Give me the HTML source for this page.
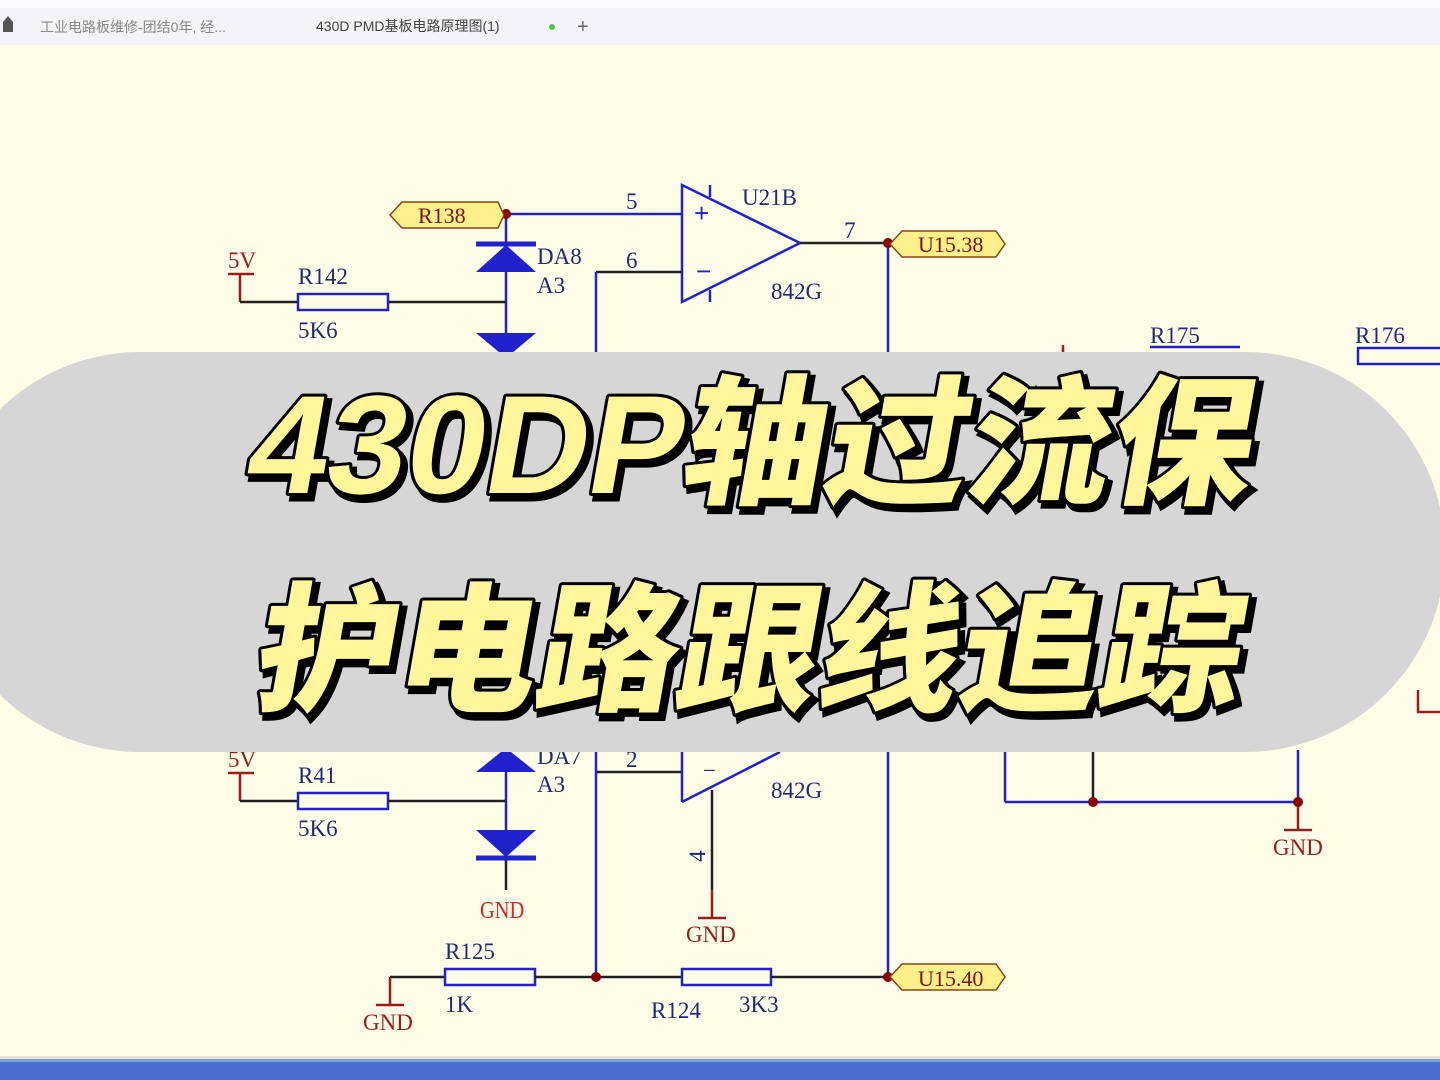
<!DOCTYPE html>
<html><head><meta charset="utf-8">
<style>
html,body{margin:0;padding:0;width:1440px;height:1080px;overflow:hidden;background:#fdfde8;}
svg{display:block}
</style></head>
<body>
<svg width="1440" height="1080" viewBox="0 0 1440 1080" xmlns="http://www.w3.org/2000/svg" font-family="'Liberation Serif', serif">
<rect x="0" y="0" width="1440" height="1080" fill="#fdfde8"/>
<rect x="0" y="0" width="1440" height="45" fill="#f4f3f7"/>
<rect x="0" y="0" width="1440" height="8" fill="#fbfbfd"/>
<path d="M3 32 L3 22 L8 16 L13 22 L13 32 Z" fill="#555"/>
<text x="40" y="32" font-family="'Liberation Sans','Noto Sans CJK SC',sans-serif" font-size="14" fill="#888">工业电路板维修-团结0年, 经...</text>
<text x="316" y="31" font-family="'Liberation Sans','Noto Sans CJK SC',sans-serif" font-size="14" fill="#444">430D PMD基板电路原理图(1)</text>
<circle cx="552" cy="27" r="3" fill="#4c4"/>
<text x="577" y="33" font-family="'Liberation Sans',sans-serif" font-size="20" fill="#666">+</text>

<g stroke-width="2.5" fill="none">
<line x1="506" y1="214" x2="682" y2="214" stroke="#2222cc"/>
<line x1="506" y1="214" x2="506" y2="360" stroke="#2222cc"/>
<line x1="388" y1="302" x2="506" y2="302" stroke="#222"/>
<line x1="240" y1="274" x2="240" y2="302" stroke="#9b1c1c"/>
<line x1="228" y1="274" x2="254" y2="274" stroke="#9b1c1c"/>
<line x1="240" y1="302" x2="298" y2="302" stroke="#222"/>
<rect x="298" y="294" width="90" height="16" stroke="#2222cc" fill="#fdfde8"/>
<line x1="476" y1="244" x2="536" y2="244" stroke="#2222cc" stroke-width="5"/>
<line x1="682" y1="272" x2="596" y2="272" stroke="#222"/>
<line x1="596" y1="272" x2="596" y2="360" stroke="#2222cc"/>
<polygon points="682,185 682,302 800,243" stroke="#2222cc"/>
<line x1="710" y1="185" x2="710" y2="197" stroke="#2222cc"/>
<line x1="710" y1="290" x2="710" y2="302" stroke="#2222cc"/>
<line x1="800" y1="243" x2="888" y2="243" stroke="#222"/>
<line x1="888" y1="243" x2="888" y2="360" stroke="#2222cc"/>
<line x1="1063" y1="345" x2="1063" y2="360" stroke="#9b1c1c"/>
<line x1="1150" y1="347" x2="1240" y2="347" stroke="#2222cc"/>
<rect x="1358" y="348" width="90" height="16" stroke="#2222cc" fill="#fdfde8"/>

<line x1="240" y1="773" x2="240" y2="801" stroke="#9b1c1c"/>
<line x1="228" y1="773" x2="254" y2="773" stroke="#9b1c1c"/>
<line x1="240" y1="801" x2="298" y2="801" stroke="#222"/>
<rect x="298" y="793" width="90" height="16" stroke="#2222cc" fill="#fdfde8"/>
<line x1="388" y1="801" x2="506" y2="801" stroke="#222"/>
<line x1="506" y1="750" x2="506" y2="858" stroke="#2222cc"/>
<line x1="506" y1="858" x2="506" y2="890" stroke="#222"/>
<line x1="476" y1="858" x2="536" y2="858" stroke="#2222cc" stroke-width="5"/>
<line x1="682" y1="772" x2="596" y2="772" stroke="#222"/>
<line x1="596" y1="750" x2="596" y2="977" stroke="#2222cc"/>
<line x1="682" y1="750" x2="682" y2="802" stroke="#2222cc"/>
<line x1="682" y1="802" x2="780" y2="752" stroke="#2222cc"/>
<line x1="712" y1="790" x2="712" y2="890" stroke="#222"/>
<line x1="712" y1="890" x2="712" y2="918" stroke="#9b1c1c"/>
<line x1="698" y1="918" x2="726" y2="918" stroke="#9b1c1c"/>
<line x1="888" y1="750" x2="888" y2="977" stroke="#2222cc"/>
<line x1="390" y1="977" x2="445" y2="977" stroke="#222"/>
<line x1="390" y1="977" x2="390" y2="1005" stroke="#9b1c1c"/>
<line x1="376" y1="1005" x2="404" y2="1005" stroke="#9b1c1c"/>
<rect x="445" y="969" width="90" height="16" stroke="#2222cc" fill="#fdfde8"/>
<line x1="535" y1="977" x2="682" y2="977" stroke="#222"/>
<rect x="682" y="969" width="89" height="16" stroke="#2222cc" fill="#fdfde8"/>
<line x1="771" y1="977" x2="888" y2="977" stroke="#222"/>
<line x1="1005" y1="750" x2="1005" y2="802" stroke="#2222cc"/>
<line x1="1005" y1="802" x2="1298" y2="802" stroke="#2222cc"/>
<line x1="1093" y1="750" x2="1093" y2="802" stroke="#222"/>
<line x1="1298" y1="750" x2="1298" y2="802" stroke="#2222cc"/>
<line x1="1298" y1="802" x2="1298" y2="830" stroke="#9b1c1c"/>
<line x1="1284" y1="830" x2="1312" y2="830" stroke="#9b1c1c"/>
<polyline points="1418,690 1418,712 1440,712" stroke="#9b1c1c"/>
</g>
<polygon points="476,272 536,272 506,245" fill="#2222cc"/>
<polygon points="476,333 536,333 506,358" fill="#2222cc"/>
<polygon points="476,772 536,772 506,748" fill="#2222cc"/>
<polygon points="476,830 536,830 506,857" fill="#2222cc"/>
<g fill="#8b0000">
<circle cx="506" cy="214" r="5"/><circle cx="888" cy="243" r="5"/>
<circle cx="596" cy="977" r="5"/><circle cx="888" cy="977" r="5"/>
<circle cx="1093" cy="802" r="5"/><circle cx="1298" cy="802" r="5"/>
</g>
<g stroke="#8b4513" stroke-width="1.5" fill="#fef08a">
<polygon points="390,215 402,202 498,202 504,215 498,228 402,228"/>
<polygon points="890,244 902,231 996,231 1005,244 996,257 902,257"/>
<polygon points="890,977 902,964 996,964 1005,977 996,990 902,990"/>
</g>
<g font-size="22" fill="#7a1010">
<text x="418" y="223">R138</text>
<text x="918" y="252">U15.38</text>
<text x="918" y="986">U15.40</text>
</g>
<g font-size="23" fill="#1f2a78">
<text x="626" y="209">5</text><text x="626" y="268">6</text><text x="844" y="238">7</text>
<text x="742" y="205">U21B</text><text x="771" y="299">842G</text>
<text x="537" y="264">DA8</text><text x="537" y="293">A3</text>
<text x="298" y="284">R142</text><text x="298" y="338">5K6</text>
<text x="1150" y="343">R175</text><text x="1355" y="343">R176</text>
<text x="298" y="783">R41</text><text x="298" y="836">5K6</text>
<text x="537" y="764">DA7</text>
<text x="537" y="792">A3</text><text x="626" y="767">2</text>
<text x="703" y="778">−</text>
<text x="771" y="798">842G</text>
<text x="445" y="959">R125</text><text x="445" y="1012">1K</text>
<text x="651" y="1018">R124</text><text x="739" y="1012">3K3</text>
<text transform="translate(705,862) rotate(-90)">4</text>
</g>
<text x="694" y="222" font-size="26" fill="#2222cc" font-family="'Liberation Sans',sans-serif">+</text>
<text x="696" y="280" font-size="26" fill="#2222cc" font-family="'Liberation Sans',sans-serif">−</text>
<g font-size="23" fill="#9b1c1c">
<text x="228" y="268">5V</text><text x="228" y="767">5V</text>
<text x="686" y="942">GND</text><text x="363" y="1030">GND</text>
<text x="1273" y="855">GND</text>
</g>
<text x="480" y="918" font-size="24" fill="#e02020" transform="translate(480,918) scale(0.85,1) translate(-480,-918)">GND</text>

<rect x="0" y="1056" width="1440" height="3" fill="#e8e4d0"/>
<rect x="0" y="1059" width="1440" height="21" fill="#4a6fd0"/>
<rect x="0" y="1059" width="1440" height="3" fill="#7fa0e0"/>

<rect x="-60" y="352" width="1505" height="400" rx="200" ry="200" fill="#d6d6d6"/>

<g font-family="'Liberation Sans','Noto Sans CJK SC',sans-serif" font-weight="900" font-size="140">
<g transform="translate(0,493) skewX(-10) translate(0,-493)">
<text x="247" y="498" textLength="1005" lengthAdjust="spacingAndGlyphs" fill="#000" stroke="#000" stroke-width="7">430DP轴过流保</text>
<text x="242" y="493" textLength="1005" lengthAdjust="spacingAndGlyphs" fill="#fff59a" stroke="#000" stroke-width="6" paint-order="stroke" stroke-linejoin="round">430DP轴过流保</text>
</g>
<g transform="translate(0,700) skewX(-10) translate(0,-700)">
<text x="255" y="705" textLength="985" lengthAdjust="spacingAndGlyphs" fill="#000" stroke="#000" stroke-width="7">护电路跟线追踪</text>
<text x="250" y="700" textLength="985" lengthAdjust="spacingAndGlyphs" fill="#fff59a" stroke="#000" stroke-width="6" paint-order="stroke" stroke-linejoin="round">护电路跟线追踪</text>
</g>
</g>
</svg>
</body></html>
